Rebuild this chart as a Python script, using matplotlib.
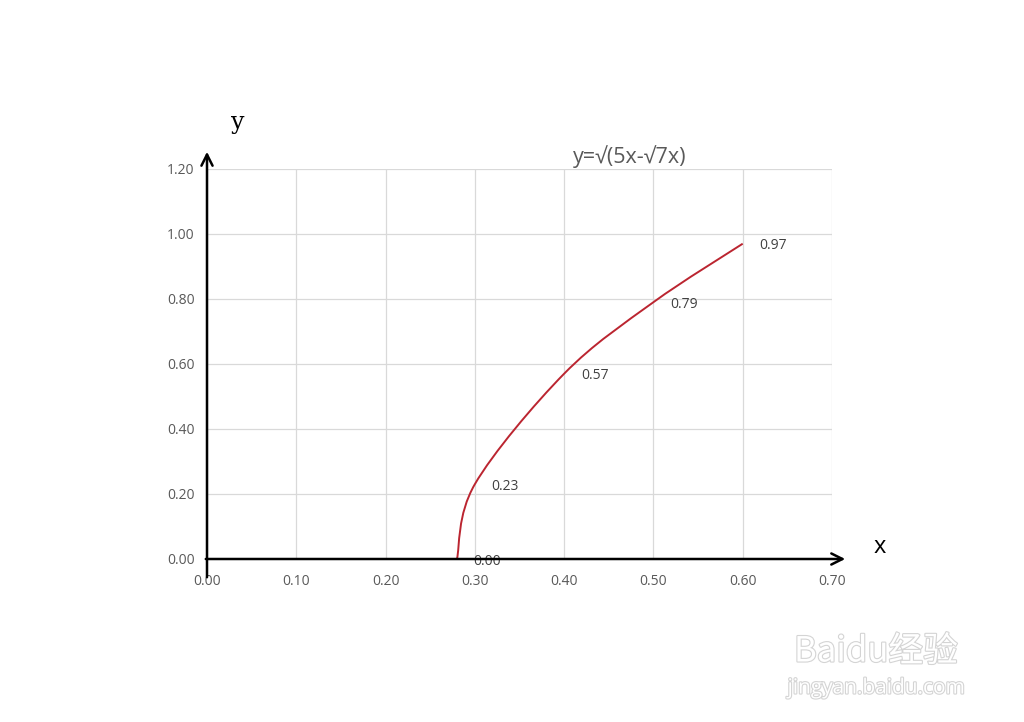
import matplotlib
matplotlib.use("Agg")
import matplotlib.pyplot as plt
import matplotlib.patheffects as pe
from matplotlib.path import Path
from matplotlib.patches import PathPatch

# values (Excel smooth-line scatter)
x_vals = [0.28, 0.30, 0.40, 0.50, 0.60]
y_vals = [0.00, 0.23, 0.57, 0.79, 0.97]
labels = ["0.00", "0.23", "0.57", "0.79", "0.97"]
x_ticks = [0.0, 0.1, 0.2, 0.3, 0.4, 0.5, 0.6, 0.7]
y_ticks = [0.0, 0.2, 0.4, 0.6, 0.8, 1.0, 1.2]
title = "y=√(5x-√7x)"

plt.rcParams['font.family'] = ['Open Sans', 'DejaVu Sans']

fig = plt.figure(figsize=(10.24, 7.22), dpi=100)
ax = fig.add_axes([0.2021, 0.2258, 0.6104, 0.5402])

ax.set_xlim(0, 0.7)
ax.set_ylim(0, 1.2)
ax.set_xticks(x_ticks)
ax.set_yticks(y_ticks)
ax.set_xticklabels([f"{v:.2f}" for v in x_ticks])
ax.set_yticklabels([f"{v:.2f}" for v in y_ticks])
ax.tick_params(length=0, labelsize=10, labelcolor="#595959")
ax.tick_params(axis="x", pad=11)
ax.tick_params(axis="y", pad=9)
ax.grid(True, color="#d9d9d9", linewidth=0.9)
ax.set_axisbelow(True)
for s in ax.spines.values():
    s.set_visible(False)

# smooth curve like Excel: Catmull-Rom converted to cubic Bezier
pts = list(zip(x_vals, y_vals))
verts = [pts[0]]
codes = [Path.MOVETO]
n = len(pts)
for i in range(n - 1):
    p0 = pts[i - 1] if i > 0 else pts[i]
    p1 = pts[i]
    p2 = pts[i + 1]
    p3 = pts[i + 2] if i + 2 < n else pts[i + 1]
    c1 = (p1[0] + (p2[0] - p0[0]) / 6, p1[1] + (p2[1] - p0[1]) / 6)
    c2 = (p2[0] - (p3[0] - p1[0]) / 6, p2[1] - (p3[1] - p1[1]) / 6)
    verts += [c1, c2, p2]
    codes += [Path.CURVE4] * 3
ax.add_patch(PathPatch(Path(verts, codes), facecolor="none",
                       edgecolor="#bb2530", linewidth=1.4, zorder=3))

for xv, yv, lab in zip(x_vals, y_vals, labels):
    ax.annotate(lab, (xv, yv), xytext=(12, -1.5), textcoords="offset points",
                ha="left", va="center", fontsize=10, color="#404040")

# hand drawn axis arrows
arrow = dict(arrowstyle="->", color="black", lw=1.8, mutation_scale=20)
ax.annotate("", xy=(848, 722 - 559), xytext=(203, 722 - 559),
            xycoords="figure pixels", textcoords="figure pixels", arrowprops=arrow)
ax.annotate("", xy=(207, 722 - 149), xytext=(207, 722 - 580),
            xycoords="figure pixels", textcoords="figure pixels", arrowprops=arrow)

fig.text(238 / 1024, 1 - 122 / 722, "y", fontsize=17, family="DejaVu Serif",
         ha="center", va="center")
fig.text(880 / 1024, 1 - 547 / 722, "x", fontsize=17, ha="center", va="center")
fig.text(630 / 1024, 1 - 157 / 722, title, fontsize=15.5, color="#595959",
         ha="center", va="center")

# watermark
outline = [pe.withStroke(linewidth=1.6, foreground="#d4d4d4")]
fig.text(876 / 1024, 1 - 652 / 722, "Baidu经验", fontsize=25, color="white",
         ha="center", va="center", family=["Noto Sans CJK SC", "DejaVu Sans"],
         path_effects=outline)
fig.text(876 / 1024, 1 - 688 / 722, "jingyan.baidu.com", fontsize=15, color="white",
         ha="center", va="center", path_effects=outline)

fig.savefig("out.png", dpi=100)
